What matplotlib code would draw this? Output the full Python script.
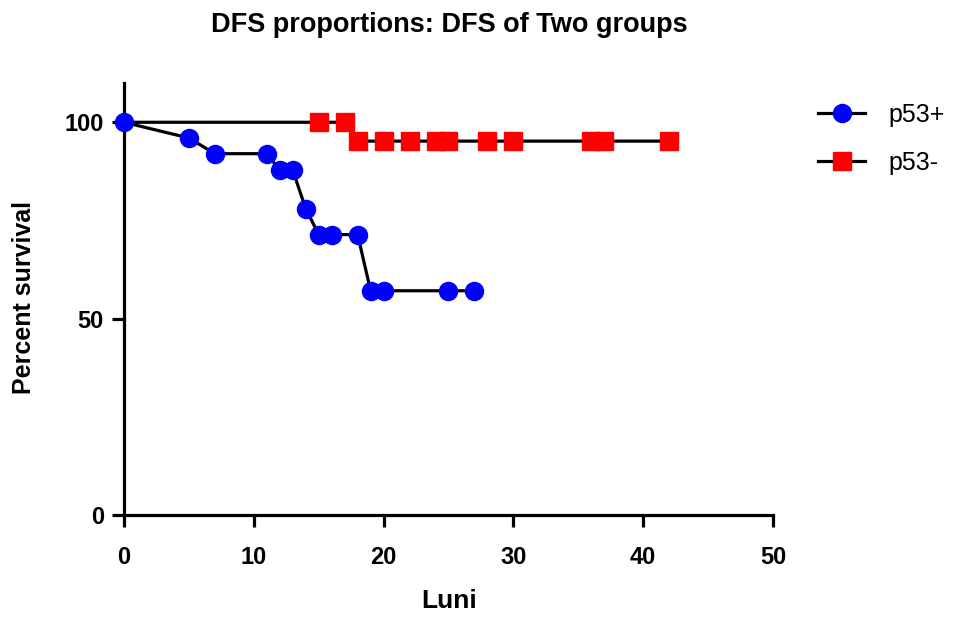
import matplotlib.pyplot as plt
from matplotlib.lines import Line2D

# survival data (months vs percent)
pos_months = [0, 5, 7, 11, 12, 13, 14, 15, 16, 18, 19, 20, 25, 27]
pos_survival = [100, 96, 92, 92, 87.8, 87.8, 78, 71.4, 71.4, 71.4, 57.1, 57.1, 57.1, 57.1]

neg_months = [0, 15, 17, 18, 20, 22, 24, 25, 28, 30, 36, 37, 42]
neg_survival = [100, 100, 100, 95.2, 95.2, 95.2, 95.2, 95.2, 95.2, 95.2, 95.2, 95.2, 95.2]

x_ticks = [0, 10, 20, 30, 40, 50]
y_ticks = [0, 50, 100]

plt.rcParams['font.family'] = ['Liberation Sans', 'DejaVu Sans']

fig = plt.figure(figsize=(9.7, 6.17), dpi=100)
ax = fig.add_axes([124 / 970, 1 - 515 / 617, (773 - 124) / 970, (515 - 83) / 617])

# the start point of p53- sits under the blue circle, so no marker there
ax.plot(neg_months, neg_survival, color='black', lw=2.3, marker='s', ms=12.5,
        mfc='#ff0000', mec='#ff0000', markevery=list(range(1, len(neg_months))),
        label='p53-', clip_on=False, zorder=3)
ax.plot(pos_months, pos_survival, color='black', lw=2.3, marker='o', ms=13,
        mfc='#0000ff', mec='#0000ff', label='p53+', clip_on=False, zorder=4)

ax.set_xlim(0, 50)
ax.set_ylim(0, 110)
ax.set_xticks(x_ticks)
ax.set_yticks(y_ticks)

for side in ['top', 'right']:
    ax.spines[side].set_visible(False)
for side in ['left', 'bottom']:
    ax.spines[side].set_linewidth(2.3)

ax.tick_params(axis='both', direction='out', length=8.5, width=2.3, labelsize=17)
ax.tick_params(axis='x', pad=14)
ax.tick_params(axis='y', pad=6)
for lbl in ax.get_xticklabels() + ax.get_yticklabels():
    lbl.set_fontweight('bold')

fig.text(449 / 970, 1 - 601 / 617, 'Luni', ha='center', va='center',
         fontsize=19, fontweight='bold')
fig.text(24 / 970, 1 - 298 / 617, 'Percent survival', ha='center', va='center',
         rotation=90, fontsize=18, fontweight='bold')
fig.text(449 / 970, 1 - 25 / 617, 'DFS proportions: DFS of Two groups',
         ha='center', va='center', fontsize=19.5, fontweight='bold')

# legend shows full markers for both series
leg_handles = [Line2D([], [], color='black', lw=2.3, marker='o', ms=13, mfc='#0000ff', mec='#0000ff'),
               Line2D([], [], color='black', lw=2.3, marker='s', ms=12.5, mfc='#ff0000', mec='#ff0000')]
fig.legend(leg_handles, ['p53+', 'p53-'], loc='upper left',
           bbox_to_anchor=(818 / 970, 1 - 103 / 617), borderaxespad=0, borderpad=0,
           frameon=False, fontsize=18, handlelength=1.9, labelspacing=0.95, handletextpad=0.9)

fig.savefig('out.png', dpi=100)
